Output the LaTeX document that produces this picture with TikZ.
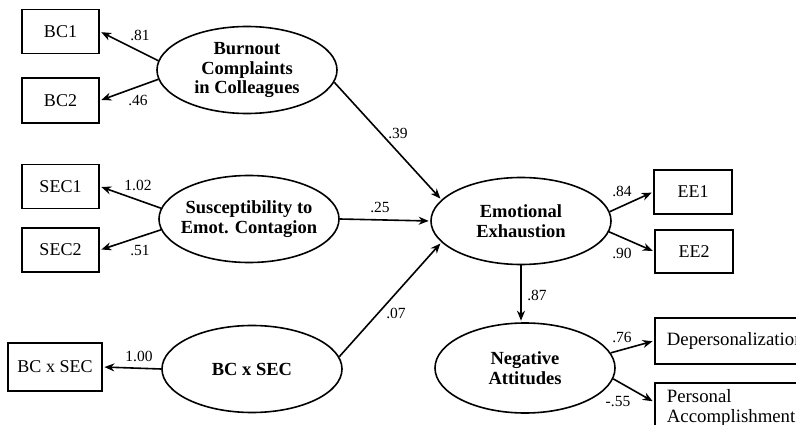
\documentclass[tikz,border=0pt]{standalone}
\usepackage{fontspec}
\setmainfont{Liberation Serif}
\usetikzlibrary{shapes.geometric,arrows.meta,calc}
\begin{document}
\begin{tikzpicture}[x=1pt,y=-1pt,
  lat/.style={ellipse,draw,line width=1.6pt,inner sep=0pt,minimum width=180pt,minimum height=87pt},
  ltxt/.style={font=\fontsize{18.5}{19.5}\selectfont\bfseries,align=center,inner sep=0pt},
  obs/.style={rectangle,draw,line width=1.8pt,inner sep=0pt,minimum width=77pt,minimum height=44pt,font=\fontsize{18}{20}\selectfont},
  arr/.style={-{Stealth[length=10pt,width=8pt]},line width=1.6pt,shorten >=1.5pt},
  coef/.style={font=\fontsize{15.5}{15.5}\selectfont,inner sep=0pt}]
\useasboundingbox (0,0) rectangle (796,425);
\fill[white] (0,0) rectangle (796,425);
\clip (0,0) rectangle (796,425);

% latent variables
\node[lat,label={[ltxt]center:{Burnout\\Complaints\\in Colleagues}}] (burn) at (247,70) {};
\node[lat,label={[ltxt]center:{Susceptibility to\\Emot. Contagion}}] (susc) at (249,219) {};
\node[lat,label={[ltxt]center:{BC x SEC}}] (bxs) at (252,369) {};
\node[lat,label={[ltxt]center:{Emotional\\Exhaustion}}] (ee) at (521,221) {};
\node[lat,minimum height=90pt,label={[ltxt]center:{Negative\\Attitudes}}] (na) at (525,368) {};

% observed variables
\node[obs] (bc1) at (60.5,31.5) {BC1};
\node[obs,minimum height=45pt] (bc2) at (60.5,100.5) {BC2};
\node[obs] (sec1) at (60.5,186.5) {SEC1};
\node[obs] (sec2) at (60.5,250) {SEC2};
\node[obs,minimum width=94pt,minimum height=48pt] (bxsbox) at (55,367) {BC x SEC};
\node[obs,minimum width=78pt] (ee1) at (693,192) {EE1};
\node[obs,minimum width=78pt,minimum height=43pt] (ee2) at (694,251.5) {EE2};
\node[obs,anchor=north west,minimum height=46pt,text width=170pt,align=left,inner xsep=12pt,font=\fontsize{18.8}{20}\selectfont] (dep) at (654,317) {Depersonalization};
\node[obs,anchor=north west,minimum height=50pt,text width=170pt,align=left,inner xsep=12pt,font=\fontsize{18.8}{20}\selectfont] (pa) at (654,382) {Personal\\Accomplishment};
\coordinate (patip) at ($(pa.north west)+(0,20)$);

% paths
\draw[arr] (burn.174) -- (bc1.east);
\draw[arr] (burn.186) -- (bc2.east);
\draw[arr] (susc.173) -- (sec1.east);
\draw[arr] (susc.187) -- (sec2.east);
\draw[arr] (bxs.west) -- (bxsbox.east);
\draw[arr] (burn.352) -- (ee.165);
\draw[arr] (susc.east) -- (ee.west);
\draw[arr] (bxs.8) -- (ee.195);
\draw[arr] (ee.6) -- (ee1.west);
\draw[arr] (ee.353) -- (ee2.west);
\draw[arr] (ee.south) -- (ee.south |- na.north);
\draw[arr] (na.10) -- (dep.west);
\draw[arr] (na.353) -- (patip);

% coefficients
\node[coef] (c81) at (140,35) {.81};
\node[coef] (c46) at (138,100) {.46};
\node[coef] (c39) at (398,133) {.39};
\node[coef] (c102) at (138,185) {1.02};
\node[coef] (c51) at (140,250) {.51};
\node[coef] (c25) at (380,207) {.25};
\node[coef] (c07) at (396,313) {.07};
\node[coef] (c100) at (139,356) {1.00};
\node[coef] (c84) at (622,191) {.84};
\node[coef] (c90) at (622,253) {.90};
\node[coef] (c87) at (537,295) {.87};
\node[coef] (c76) at (622,337) {.76};
\node[coef] (c55) at (618,402) {-.55};
\end{tikzpicture}
\end{document}
